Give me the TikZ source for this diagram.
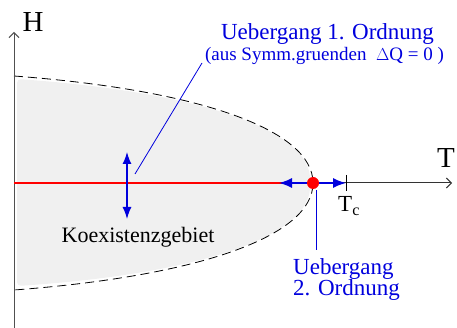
\documentclass[tikz,border=0pt]{standalone}
\usepackage{fontspec}
\setmainfont{Liberation Serif}
\usetikzlibrary{arrows.meta}
\definecolor{fillgray}{HTML}{F0F0F0}
\definecolor{myblue}{HTML}{0000DD}
\definecolor{axisgray}{HTML}{505050}
\begin{document}
\begin{tikzpicture}[x=1pt,y=-1pt,
  axis/.style={line width=1pt, -{Straight Barb[length=5pt,width=10pt]}},
  barrow/.style={myblue, line width=1.5pt, -{Latex[length=13pt,width=10pt]}},
  bline/.style={myblue, line width=0.8pt},
  btext/.style={text=myblue, inner sep=0pt, anchor=base, font=\fontsize{23}{26}\selectfont},
  lbl/.style={inner sep=0pt, anchor=base, font=\fontsize{29}{32}\selectfont}]
\useasboundingbox (0,0) rectangle (457,328);
\coordinate (O) at (14,183);
\coordinate (tip) at (313,183);
\coordinate (Hend) at (14,32);
\coordinate (Tend) at (452,183);
\coordinate (Hbot) at (14,328);
\coordinate (Tc) at (346,183);
\coordinate (left) at (279,183);
% coexistence region
\fill[fillgray, rounded corners=4pt] (17,79) .. controls (200,92) and (310,130) .. (310,183)
  .. controls (310,236) and (200,274) .. (17,286) -- cycle;
\draw[dashed, dash pattern=on 9pt off 5pt, line width=0.8pt] (14,76) .. controls (200,90) and (313,130) .. (tip)
  .. controls (313,236) and (200,276) .. (14,290);
% axes
\draw[axis, axisgray] (Hbot) -- (Hend);
\draw[axis, black!80] (O) -- (Tend);
\node[lbl] (H) at (33,32) {H};
\node[lbl] (T) at (446,168) {T};
\draw[line width=0.8pt] (346,175) -- (346,191);
\node[inner sep=0pt, anchor=base west, font=\fontsize{23}{26}\selectfont] (Tclab) at (338,212) {T\textsubscript{c}};
% red line
\draw[red, line width=2pt] (O) -- (tip);
% blue arrows
\draw[barrow] (tip) -- (left);
\draw[barrow] (tip) -- (Tc);
\fill[red] (tip) circle[radius=6pt];
\coordinate (vtop) at (127,152);
\coordinate (vbot) at (127,219);
\draw[myblue, line width=1.3pt, {Latex[length=12pt,width=9pt]}-{Latex[length=12pt,width=9pt]}] (vtop) -- (vbot);
% labels
\node[inner sep=0pt, anchor=base, font=\fontsize{22}{26}\selectfont] (koex) at (138,243) {Koexistenzgebiet};
\node[btext] (u1) at (327.5,40) {Uebergang 1. Ordnung};
\node[btext, font=\fontsize{19}{22}\selectfont] (u1b) at (324.5,61) {(aus Symm.gruenden\ \ $\Delta$Q = 0 )};
\coordinate (l1a) at (135,174);
\coordinate (l1b) at (202,63);
\draw[bline] (l1a) -- (l1b);
\coordinate (l2a) at (316,190);
\coordinate (l2b) at (316,250);
\draw[bline] (l2a) -- (l2b);
\node[btext, align=left, anchor=north west, font=\fontsize{23}{21}\selectfont] (u2) at (293,258) {Uebergang\\2. Ordnung};
\end{tikzpicture}
\end{document}
